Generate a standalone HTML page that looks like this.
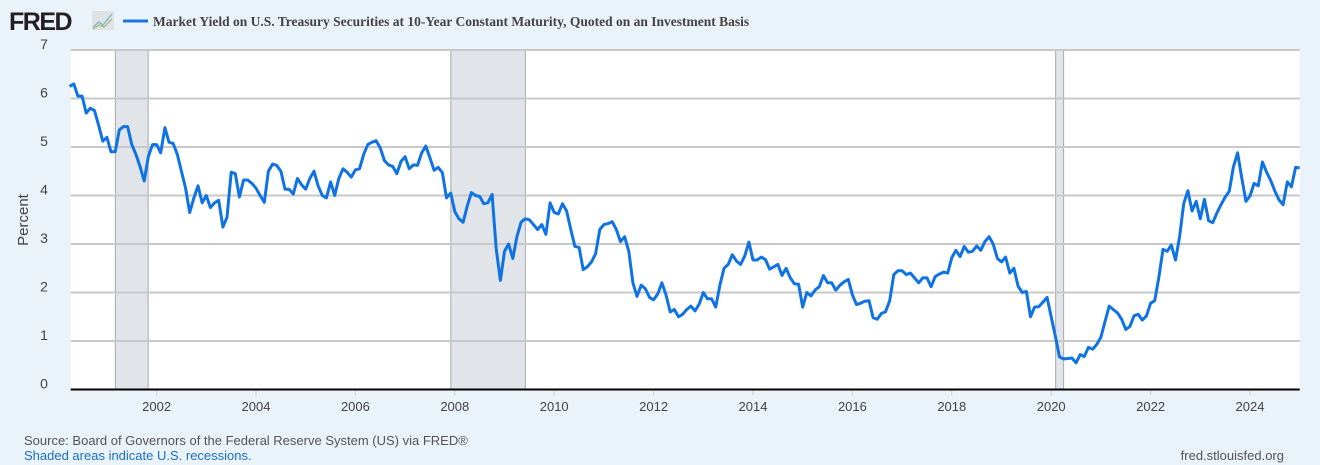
<!DOCTYPE html>
<html><head><meta charset="utf-8"><style>
body{margin:0;width:1320px;height:465px;background:#eaf2fa;overflow:hidden;font-family:"Liberation Sans",sans-serif;}
svg{display:block}
</style></head><body>
<svg width="1320" height="465" xmlns="http://www.w3.org/2000/svg">
<rect x="0" y="0" width="1320" height="465" fill="#eaf2fa"/>
<text x="9" y="30" font-family="Liberation Sans, sans-serif" font-weight="bold" font-size="25" fill="#231f20" letter-spacing="-1.5">FRED</text>
<g><rect x="92" y="11" width="22" height="19" fill="#dfe3e6" rx="2"/><polyline points="93,27 99,22 103,25 112,14" fill="none" stroke="#7fb0d8" stroke-width="1.3"/><polyline points="93,29 99,25 104,27 112,19" fill="none" stroke="#9bc16b" stroke-width="1.3"/></g>
<line x1="123" y1="21" x2="148" y2="21" stroke="#1a75e0" stroke-width="3"/>
<text x="153" y="26" font-family="Liberation Serif, serif" font-weight="bold" font-size="13.5" fill="#444">Market Yield on U.S. Treasury Securities at 10-Year Constant Maturity, Quoted on an Investment Basis</text>
<rect x="70.7" y="50" width="1229" height="339.5" fill="#fff"/>
<g id="rec"></g>
<g id="grid"></g>
<g id="xt"></g>
<path id="line" fill="none" stroke="#0f73e3" stroke-width="3" stroke-linejoin="round"/>
<line x1="70.7" y1="389.5" x2="1299.7" y2="389.5" stroke="#000" stroke-width="2"/>
<text x="28" y="220" transform="rotate(-90 28 220)" text-anchor="middle" font-size="15" fill="#444">Percent</text>
<text x="24" y="445" font-size="13" fill="#555">Source: Board of Governors of the Federal Reserve System (US) via FRED®</text>
<text x="24" y="460" font-size="13" fill="#1a6fc4">Shaded areas indicate U.S. recessions.</text>
<text x="1284" y="460" text-anchor="end" font-size="13" fill="#555">fred.stlouisfed.org</text>
</svg>
<script>
const startYear = 2000.25;
const yields = [
6.25,6.3,6.05,6.05,5.7,5.8,5.75,5.45,5.12,
5.2,4.9,4.9,5.35,5.42,5.42,5.05,4.85,4.6,4.3,4.8,5.05,
5.05,4.88,5.4,5.1,5.07,4.85,4.5,4.15,3.65,3.95,4.2,3.85,
4.0,3.75,3.85,3.9,3.35,3.55,4.48,4.45,3.97,4.32,4.32,4.25,
4.15,4.0,3.86,4.5,4.65,4.62,4.5,4.13,4.13,4.03,4.35,4.22,
4.13,4.35,4.5,4.2,4.0,3.95,4.28,4.0,4.35,4.55,4.48,4.38,
4.53,4.55,4.85,5.05,5.1,5.13,4.98,4.72,4.63,4.6,4.45,4.7,
4.8,4.55,4.63,4.62,4.88,5.02,4.78,4.52,4.58,4.47,3.95,4.05,
3.67,3.52,3.45,3.78,4.06,4.0,3.98,3.83,3.85,4.02,2.9,2.25,
2.85,3.0,2.7,3.15,3.45,3.52,3.5,3.4,3.3,3.4,3.2,3.85,
3.65,3.62,3.83,3.68,3.3,2.95,2.93,2.47,2.53,2.63,2.8,3.3,
3.4,3.42,3.46,3.3,3.05,3.15,2.85,2.2,1.92,2.15,2.08,1.9,
1.85,1.97,2.2,1.95,1.6,1.65,1.5,1.55,1.65,1.72,1.62,1.76,
2.0,1.87,1.87,1.7,2.15,2.5,2.58,2.78,2.65,2.58,2.75,3.04,
2.67,2.67,2.73,2.68,2.48,2.53,2.58,2.35,2.5,2.3,2.18,2.17,
1.7,2.0,1.93,2.05,2.12,2.35,2.2,2.2,2.05,2.15,2.22,2.27,
1.95,1.75,1.78,1.82,1.83,1.48,1.45,1.57,1.6,1.83,2.37,2.45,
2.45,2.37,2.4,2.3,2.2,2.3,2.3,2.12,2.33,2.38,2.42,2.4,
2.72,2.87,2.74,2.95,2.83,2.85,2.96,2.87,3.05,3.15,3.0,2.7,
2.63,2.73,2.4,2.5,2.13,2.0,2.02,1.5,1.7,1.71,1.8,1.9,
1.5,1.1,0.67,0.63,0.64,0.65,0.55,0.72,0.68,0.87,0.83,0.93,
1.08,1.4,1.72,1.65,1.58,1.45,1.24,1.3,1.52,1.55,1.43,1.52,
1.78,1.83,2.32,2.89,2.85,2.98,2.67,3.15,3.83,4.1,3.68,3.88,
3.52,3.92,3.48,3.44,3.64,3.81,3.97,4.09,4.59,4.88,4.37,3.88,
3.99,4.25,4.2,4.69,4.48,4.31,4.09,3.91,3.81,4.28,4.18,4.58,
4.57];
const recStarts = [2001.17, 2007.92, 2020.09];
const recEnds = [2001.83, 2009.42, 2020.25];
const yTicks = [0,1,2,3,4,5,6,7];
const xTicks = [2002,2004,2006,2008,2010,2012,2014,2016,2018,2020,2022,2024];
const NS='http://www.w3.org/2000/svg';
const X0=70.7,X1=1299.7,Y0=389.5,Y1=50;
const xs=t=>57.2+(t-2000)*49.7;
const ys=v=>Y0-(v/7)*(Y0-Y1);
function mk(tag,a,p){const e=document.createElementNS(NS,tag);for(const k in a)e.setAttribute(k,a[k]);document.getElementById(p).appendChild(e);return e;}
recStarts.forEach((s,i)=>{
 const r=mk('rect',{x:xs(s),y:Y1,width:xs(recEnds[i])-xs(s),height:Y0-Y1,fill:'#e1e5ea',stroke:'#a8a8a8','stroke-width':1},'rec');
 
 
});
yTicks.forEach(v=>{
 if(v>0){const l=mk('line',{x1:X0,x2:X1,y1:ys(v),y2:ys(v),stroke:'#c8c8c8','stroke-width':2},'grid');
 
 }
 const t=mk('text',{x:44,y:ys(v)-1,'text-anchor':'middle','font-size':14,fill:'#444'},'grid');
 t.textContent=v;
 
 
});
xTicks.forEach(v=>{
 const l=mk('line',{x1:xs(v),x2:xs(v),y1:Y0,y2:Y0+6,stroke:'#ccc','stroke-width':1},'xt');
 
 
 const t=mk('text',{x:xs(v),y:411,'text-anchor':'middle','font-size':13,fill:'#444'},'xt');
 t.textContent=v;
 
 
});
let d='';
yields.forEach((v,i)=>{const x=Math.min(X1,xs(startYear+i/12));d+=(i?'L':'M')+x.toFixed(1)+','+ys(v).toFixed(1);});
d+='L'+X1+','+ys(yields[yields.length-1]).toFixed(1);
document.getElementById('line').setAttribute('d',d);
</script>
</body></html>
